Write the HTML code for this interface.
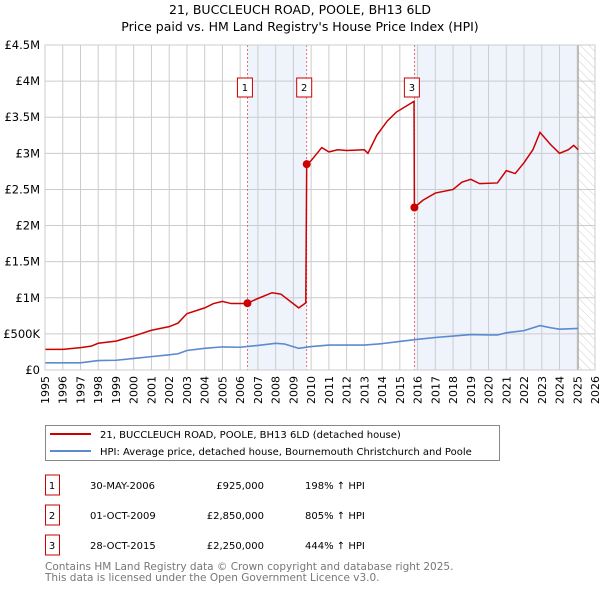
<!DOCTYPE html>
<html><head><meta charset="utf-8"><style>
body{margin:0;background:#fff;font-family:"DejaVu Sans","Liberation Sans",sans-serif;}
svg text{font-family:"DejaVu Sans","Liberation Sans",sans-serif;}
</style></head><body>
<svg id="c" width="600" height="590" xmlns="http://www.w3.org/2000/svg">
<defs><pattern id="hatch" width="6" height="6" patternUnits="userSpaceOnUse" patternTransform="rotate(-45)"><line x1="0" y1="0" x2="0" y2="6" stroke="#bbb" stroke-width="0.7"/></pattern></defs>
<text x="300" y="14" text-anchor="middle" font-size="12.5">21, BUCCLEUCH ROAD, POOLE, BH13 6LD</text>
<text x="300" y="31" text-anchor="middle" font-size="12.5">Price paid vs. HM Land Registry's House Price Index (HPI)</text>
<g id="plot"></g>
<g>
<rect x="45.5" y="425.5" width="454" height="35" fill="#fff" stroke="#888"/>
<line x1="50" y1="434" x2="91" y2="434" stroke="#cc0000" stroke-width="2"/>
<text x="100" y="438" font-size="10">21, BUCCLEUCH ROAD, POOLE, BH13 6LD (detached house)</text>
<line x1="50" y1="451" x2="91" y2="451" stroke="#5a8ad0" stroke-width="2"/>
<text x="100" y="455" font-size="10">HPI: Average price, detached house, Bournemouth Christchurch and Poole</text>
</g>
<g id="table" font-size="10"></g>
<text x="45" y="570" font-size="10.5" fill="#777">Contains HM Land Registry data © Crown copyright and database right 2025.</text>
<text x="45" y="581" font-size="10.5" fill="#777">This data is licensed under the Open Government Licence v3.0.</text>
</svg>
<script>
const hpiYears=[1995,1996,1997,1997.5,1998,1999,2000,2001,2002,2002.5,2003,2004,2005,2006,2007,2008,2008.5,2009.3,2010,2011,2012,2013,2014,2015,2016,2017,2018,2019,2020,2020.5,2021,2022,2022.9,2023.5,2024,2025.05];
const hpiValues=[100000,100000,100000,115000,130000,135000,160000,185000,210000,225000,270000,300000,320000,315000,340000,370000,360000,300000,325000,345000,345000,345000,365000,395000,425000,450000,470000,490000,485000,485000,515000,545000,615000,585000,565000,575000];
const redYears=[1995,1996,1997,1997.6,1998,1999,2000,2001,2002,2002.5,2003,2004,2004.5,2005,2005.5,2006.2,2006.41,2007,2007.8,2008.3,2009.3,2009.7,2009.75,2010,2010.6,2011,2011.5,2012,2013,2013.2,2013.7,2014.3,2014.8,2015.8,2015.82,2016.3,2017,2018,2018.5,2019,2019.5,2020.5,2021,2021.5,2022,2022.5,2022.9,2023.5,2024,2024.5,2024.8,2025.05];
const redValues=[285000,285000,310000,330000,370000,400000,470000,550000,600000,650000,780000,860000,920000,950000,920000,920000,925000,990000,1070000,1050000,860000,930000,2850000,2900000,3080000,3020000,3050000,3040000,3050000,3000000,3250000,3450000,3570000,3720000,2250000,2350000,2450000,2500000,2600000,2640000,2580000,2590000,2760000,2720000,2870000,3050000,3290000,3120000,3000000,3050000,3110000,3050000];
const saleYears=[2006.41,2009.75,2015.82];
const salePrices=[925000,2850000,2250000];
const saleLabels=["1","2","3"];
const saleDates=["30-MAY-2006","01-OCT-2009","28-OCT-2015"];
const salePriceText=["£925,000","£2,850,000","£2,250,000"];
const salePct=["198% ↑ HPI","805% ↑ HPI","444% ↑ HPI"];
const yTicks=[0,500000,1000000,1500000,2000000,2500000,3000000,3500000,4000000,4500000];
const yTickLabels=["£0","£500K","£1M","£1.5M","£2M","£2.5M","£3M","£3.5M","£4M","£4.5M"];
const shadeRanges=[[2006.41,2009.75],[2015.82,2025.05]];

const NS="http://www.w3.org/2000/svg";
const L=45,R=595,T=45,B=370,X0=1995,X1=2026,YMAX=4500000;
const xs=y=>L+(y-X0)/(X1-X0)*(R-L);
const ys=v=>B-v/YMAX*(B-T);
const plot=document.getElementById('plot');
function mk(tag,attrs,parent){const e=document.createElementNS(NS,tag);for(const k in attrs)e.setAttribute(k,attrs[k]);(parent||plot).appendChild(e);return e;}
shadeRanges.forEach(r=>{
 const e=mk('rect',{x:xs(r[0]),y:T,width:xs(r[1])-xs(r[0]),height:B-T,fill:'#eef3fc'});
 
 
});
const h=mk('rect',{x:xs(2025.05),y:T,width:R-xs(2025.05),height:B-T,fill:'url(#hatch)'});


for(let y=X0;y<=X1;y++){
 const g=mk('line',{x1:xs(y),x2:xs(y),y1:T,y2:B,stroke:'#ccc','stroke-width':1});
 
 
 const t=mk('text',{x:0,y:0,'font-size':11,'text-anchor':'end',transform:`translate(${xs(y)+4},${B+6}) rotate(-90)`});
 t.textContent=y;
 
 
}
yTicks.forEach((v,i)=>{
 const g=mk('line',{x1:L,x2:R,y1:ys(v),y2:ys(v),stroke:'#ccc','stroke-width':1});
 
 
 const t=mk('text',{x:L-5,y:ys(v)+4,'font-size':11.5,'text-anchor':'end'});
 t.textContent=yTickLabels[i];
 
 
});
const nl=mk('line',{x1:xs(2025.05),x2:xs(2025.05),y1:T,y2:B,stroke:'#999','stroke-width':1});


saleYears.forEach(y=>{
 const d=mk('line',{x1:xs(y),x2:xs(y),y1:T,y2:B,stroke:'#e05050','stroke-width':0.8,'stroke-dasharray':'2,2'});
 
 
});
const hp=mk('polyline',{points:hpiYears.map((y,i)=>xs(y)+','+ys(hpiValues[i])).join(' '),fill:'none',stroke:'#5a8ad0','stroke-width':1.6});


const rp=mk('polyline',{points:redYears.map((y,i)=>xs(y)+','+ys(redValues[i])).join(' '),fill:'none',stroke:'#cc0000','stroke-width':1.5});


saleYears.forEach((y,i)=>{
 const c=mk('circle',{cx:xs(y),cy:ys(salePrices[i]),r:4,fill:'#cc0000'});
 
 
 const bx=mk('rect',{x:xs(y)-10,y:78,width:15,height:19,fill:'#fff',stroke:'#cc0000'});
 
 
 const t=mk('text',{x:xs(y)-2.5,y:91,'font-size':10,'text-anchor':'middle'});
 t.textContent=saleLabels[i];
 
 
});
const ax=mk('rect',{x:L,y:T,width:R-L,height:B-T,fill:'none',stroke:'#ccc'});


const tb=document.getElementById('table');
saleYears.forEach((y,i)=>{
 const cy=485+i*30;
 const b=mk('rect',{x:45.5,y:cy-10,width:14,height:20,fill:'#fff',stroke:'#cc0000'},tb);
 
 
 const cells=[[52,saleLabels[i],'middle'],[90,saleDates[i],'start'],[264,salePriceText[i],'end'],[305,salePct[i],'start']];
 cells.forEach(c=>{
  const t=mk('text',{x:c[0],y:cy+4,'text-anchor':c[2]},tb);
  t.textContent=c[1];
  
  
 });
});
</script>
</body></html>
